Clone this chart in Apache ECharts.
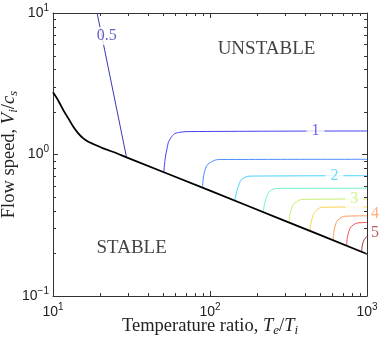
<!DOCTYPE html>
<html><head><meta charset="utf-8">
<script src="https://cdn.jsdelivr.net/npm/echarts@6/dist/echarts.min.js"></script>
<style>html,body{margin:0;padding:0;background:#fff}#c{width:381px;height:340px}</style>
</head><body><div id="c"></div>
<script>
// ---- data ----
const xMajorTicks = [10, 100, 1000];
const yMajorTicks = [0.1, 1, 10];
const xMinorTicks = [20,30,40,50,60,70,80,90,200,300,400,500,600,700,800,900];
const yMinorTicks = [0.2,0.3,0.4,0.5,0.6,0.7,0.8,0.9,2,3,4,5,6,7,8,9];

// stability boundary (black)
const boundary = [[10,2.75],[10.81,2.40],[11.63,2.06],[12.52,1.80],[13.47,1.573],[14.49,1.412],[15.6,1.30],[16.78,1.232],[18.06,1.186],[20.9,1.106],[25.45,1.02],[29.4,0.955],[100,0.555],[300,0.34],[1000,0.198]];

// contour levels and their traces
const levelNames = ['0.5','1','1.5','2','2.5','3','3.5','4','4.5','5'];
const levelColors = ['#3a3ab8','#4242f0','#4c8cff','#46d2ff','#72f5c2','#c6f070','#f7d448','#ff9a5c','#ee5050','#a83838'];
const c05 = [[19.1,10],[29.4,0.955]];
const c10 = [[50.9,0.756],[53.0,1.076],[57.0,1.336],[64.4,1.435],[74.6,1.452],[1000,1.466]];
const c15 = [[89.8,0.592],[92.9,0.777],[102.5,0.889],[118.7,0.922],[1000,0.925]];
const c20 = [[144.2,0.477],[151.4,0.592],[163,0.679],[188.7,0.704],[1000,0.708]];
const c25 = [[218.6,0.394],[229.7,0.503],[247,0.561],[279,0.576],[1000,0.578]];
const c30 = [[320,0.335],[331,0.417],[356,0.464],[403,0.482],[1000,0.485]];
const c35 = [[433.5,0.285],[444.5,0.344],[478.5,0.405],[540,0.424],[1000,0.426]];
const c40 = [[609.5,0.249],[625,0.309],[673,0.354],[760,0.367],[1000,0.369]];
const c45 = [[742.5,0.229],[760,0.277],[818,0.318],[925,0.330],[1000,0.331]];
const c50 = [[925,0.2056],[947,0.242],[1000,0.265]];
const contours = [c05,c10,c15,c20,c25,c30,c35,c40,c45,c50];

// inline contour labels: [x, y, text, colorIndex]
const inlineLabels = [[22,6.88,'0.5',0],[470,1.466,'1',1],[620,0.708,'2',3],[830,0.485,'3',5]];
// labels outside the right edge
const edgeLabels = [[1000,0.38,'4',7],[1000,0.281,'5',9]];
// region annotations
const regionLabels = [[229,5.61,'UNSTABLE'],[31.7,0.218,'STABLE']];

// ---- chart ----
const serif = 'Liberation Serif';
const sans = 'Liberation Sans';
const supFmt = v => '{b|10}{s|' + String(Math.round(Math.log10(v))).replace('-', '\u2212') + '}';
const tickRich = {
  b: {fontFamily: sans, fontSize: 14, color: '#222', lineHeight: 20, verticalAlign: 'middle'},
  s: {fontFamily: sans, fontSize: 10, color: '#222', lineHeight: 10, verticalAlign: 'top'}
};
const nameRich = {
  n: {fontFamily: serif, fontSize: 18.5, color: '#222', lineHeight: 22},
  i: {fontFamily: serif, fontStyle: 'italic', fontSize: 18.5, color: '#222', lineHeight: 22},
  u: {fontFamily: serif, fontStyle: 'italic', fontSize: 13, color: '#222', lineHeight: 11, verticalAlign: 'bottom'}
};
const axisCommon = {
  type: 'log', logBase: 10,
  axisLine: {show: true, lineStyle: {color: '#333', width: 1}},
  axisTick: {show: true, inside: true, length: 5, lineStyle: {color: '#333'}},
  splitLine: {show: false}, minorTick: {show: false}
};

const tickData = xMinorTicks.map(v => [v, 1, 0]).concat(yMinorTicks.map(v => [10, v, 1]));

const series = [];
contours.forEach((pts, k) => {
  series.push({
    type: 'line', data: pts, symbol: 'none', smooth: k === 0 ? false : 0.5,
    lineStyle: {color: levelColors[k], width: 1}, z: 2, silent: true
  });
});
series.push({
  type: 'line', data: boundary, symbol: 'none', smooth: 0.3,
  lineStyle: {color: '#000', width: 1.8}, z: 4, silent: true
});
series.push({
  type: 'scatter', symbolSize: 0, z: 6, silent: true,
  data: inlineLabels.map(d => ({value: [d[0], d[1]], text: d[2], ci: d[3]})),
  label: {show: true, position: 'inside',
    formatter: p => p.data.text,
    fontFamily: serif, fontSize: 16, backgroundColor: '#fff', padding: [1, 5]}
});
series.push({
  type: 'scatter', symbolSize: 0, z: 6, silent: true, clip: false,
  data: edgeLabels.map(d => ({value: [d[0], d[1]], text: d[2], ci: d[3]})),
  label: {show: true, position: 'right', distance: 4,
    formatter: p => p.data.text, fontFamily: serif, fontSize: 16}
});
series.push({
  type: 'scatter', symbolSize: 0, z: 6, silent: true,
  data: regionLabels.map(d => ({value: [d[0], d[1]], text: d[2]})),
  label: {show: true, position: 'inside', formatter: p => p.data.text,
    fontFamily: serif, fontSize: 19, color: '#111'}
});
series.push({
  type: 'custom', silent: true, z: 5, clip: false,
  data: tickData,
  renderItem: (params, api) => {
    const cs = params.coordSys;
    const p = api.coord([api.value(0), api.value(1)]);
    const L = 3;
    const st = {stroke: '#333', lineWidth: 1};
    if (api.value(2) === 0) {
      const x = Math.round(p[0]) + 0.5;
      return {type: 'group', children: [
        {type: 'line', shape: {x1: x, y1: cs.y + cs.height, x2: x, y2: cs.y + cs.height - L}, style: st},
        {type: 'line', shape: {x1: x, y1: cs.y, x2: x, y2: cs.y + L}, style: st}
      ]};
    } else {
      const y = Math.round(p[1]) + 0.5;
      return {type: 'group', children: [
        {type: 'line', shape: {x1: cs.x, y1: y, x2: cs.x + L, y2: y}, style: st},
        {type: 'line', shape: {x1: cs.x + cs.width, y1: y, x2: cs.x + cs.width - L, y2: y}, style: st}
      ]};
    }
  }
});

// per-label colours
series.forEach(s => {
  if (s.type === 'scatter' && s.data[0] && s.data[0].ci !== undefined) {
    s.data.forEach(d => { d.label = {color: levelColors[d.ci]}; });
  }
});

const option = {
  animation: false,
  backgroundColor: '#fff',
  grid: {left: 53, right: 14, top: 13, bottom: 44, containLabel: false, outerBoundsMode: 'none'},
  xAxis: [
    Object.assign({}, axisCommon, {
      min: 10, max: 1000, position: 'bottom',
      axisLabel: {formatter: supFmt, rich: tickRich, margin: 6},
      name: '{n|Temperature ratio, }{i|T}{u|e}{n|/}{i|T}{u|i}',
      nameLocation: 'middle', nameGap: 19, nameMoveOverlap: false,
      nameTextStyle: {rich: nameRich}
    }),
    Object.assign({}, axisCommon, {min: 10, max: 1000, position: 'top', axisLabel: {show: false}})
  ],
  yAxis: [
    Object.assign({}, axisCommon, {
      min: 0.1, max: 10, position: 'left',
      axisLabel: {formatter: supFmt, rich: tickRich, margin: 4},
      name: '{n|Flow speed, }{i|V}{u|i}{n|/}{i|c}{u|s}',
      nameLocation: 'middle', nameGap: 33, nameRotate: 90, nameMoveOverlap: false,
      nameTextStyle: {rich: nameRich}
    }),
    Object.assign({}, axisCommon, {min: 0.1, max: 10, position: 'right', axisLabel: {show: false}})
  ],
  series: series
};
const chart = echarts.init(document.getElementById('c'), null, {renderer: 'canvas'});
chart.setOption(option);
</script></body></html>
